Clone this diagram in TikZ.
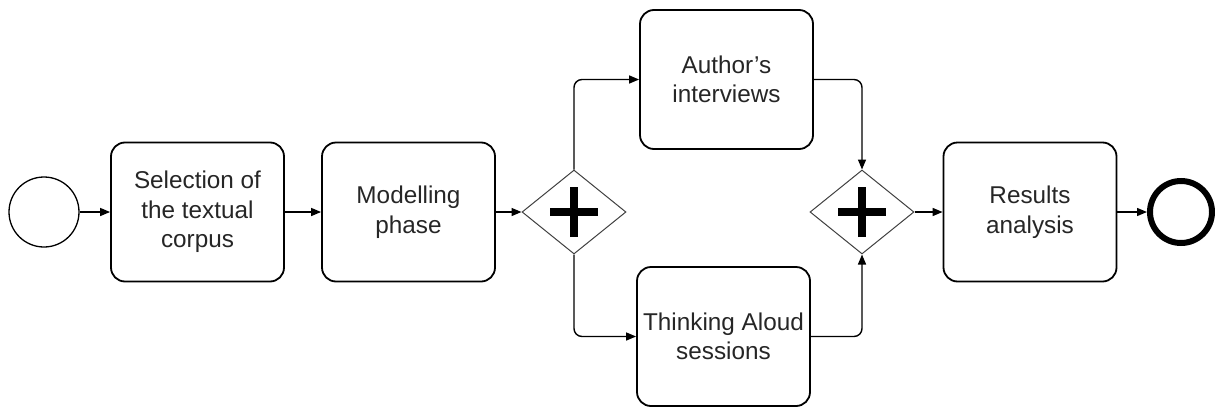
\documentclass[tikz,border=0pt]{standalone}
\usepackage{fontspec}
\setmainfont{Liberation Sans}
\usetikzlibrary{shapes.geometric,arrows.meta}
\begin{document}
\begin{tikzpicture}[x=1pt,y=-1pt]
\tikzstyle{every node}+=[inner sep=0pt]
\tikzstyle{task}=[draw,line width=1.8pt,rounded corners=14pt,minimum width=173pt,minimum height=139pt,align=center,font=\fontsize{24.3}{29.5}\selectfont,text=black!85]
\tikzstyle{gate}=[draw,diamond,line width=1pt,draw=black!75,minimum width=104pt,minimum height=84pt]
\tikzstyle{plus}=[line width=8pt]
\tikzstyle{flow}=[line width=1.4pt,rounded corners=8pt,-{Triangle[length=10pt,width=8pt]}]
\useasboundingbox (0,0) rectangle (1215,407);

\node [draw,circle,line width=1.3pt,minimum size=70pt] (start) at (44,212) {};
\node [task] (sel) at (197.5,212) {Selection of\\the textual\\corpus};
\node [task] (mod) at (408.5,212) {Modelling\\phase};
\node [gate] (g1) at (574,212) {};
\node [task] (auth) at (726.5,79.5) {Author's\\interviews};
\node [task] (think) at (723.5,336.5) {Thinking Aloud\\sessions};
\node [gate] (g2) at (862,212) {};
\node [task] (res) at (1030,212) {Results\\analysis};
\node [draw,circle,line width=6pt,minimum size=62pt] (end) at (1181,212) {};

\draw [plus] ([xshift=-24pt]g1.center) -- ([xshift=24pt]g1.center);
\draw [plus] ([yshift=-25pt]g1.center) -- ([yshift=25pt]g1.center);
\draw [plus] ([xshift=-24pt]g2.center) -- ([xshift=24pt]g2.center);
\draw [plus] ([yshift=-25pt]g2.center) -- ([yshift=25pt]g2.center);

\draw [flow] (start) -- (sel);
\draw [flow] (sel) -- (mod);
\draw [flow] (mod) -- (g1);
\draw [flow] (g1.north) |- (auth);
\draw [flow] (g1.south) |- (think);
\draw [flow] (auth) -| (g2.north);
\draw [flow] (think) -| (g2.south);
\draw [flow] (g2) -- (res);
\draw [flow] (res) -- (end);
\end{tikzpicture}
\end{document}
